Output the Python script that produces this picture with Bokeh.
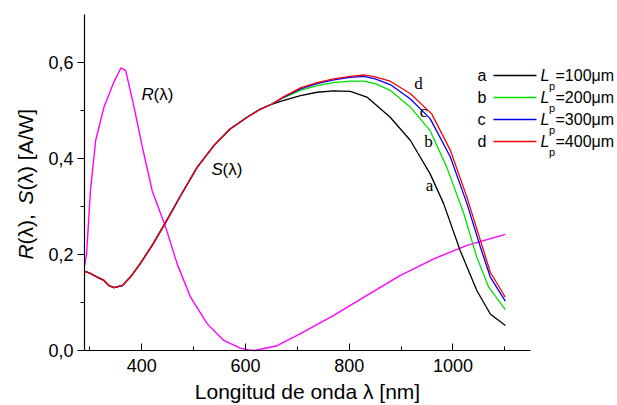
import math
from bokeh.plotting import figure
from bokeh.models import Label, Arrow, FixedTicker, CustomJSTickFormatter, Range1d, LinearAxis
from bokeh.embed import file_html
from bokeh.resources import INLINE

# ---------------- data ----------------
# common part of the spectral responsivity S(lambda) (all four curves coincide)
wl_common = [289.6, 300, 314, 327, 337, 346, 362, 378, 397, 420, 446, 475, 507, 539, 571, 603, 629, 650]
s_common = [0.165, 0.161, 0.153, 0.146, 0.135, 0.131, 0.135, 0.153, 0.181, 0.219, 0.267, 0.323,
            0.382, 0.427, 0.462, 0.486, 0.503, 0.513]

wl_a = [674, 706, 738, 770, 802, 834, 879, 918, 956, 982, 1014, 1046, 1072, 1101]
s_a = [0.521, 0.531, 0.538, 0.541, 0.540, 0.528, 0.486, 0.4375, 0.368, 0.306, 0.208, 0.125, 0.076, 0.052]

wl_b = [674, 706, 738, 770, 802, 828, 850, 879, 918, 956, 988, 1021, 1046, 1069, 1101]
s_b = [0.527, 0.542, 0.552, 0.558, 0.561, 0.561, 0.556, 0.542, 0.507, 0.458, 0.382, 0.285, 0.194, 0.132, 0.085]

wl_c = [674, 706, 738, 770, 802, 828, 850, 879, 918, 956, 995, 1027, 1053, 1072, 1101]
s_c = [0.528, 0.545, 0.556, 0.564, 0.569, 0.571, 0.566, 0.554, 0.524, 0.483, 0.403, 0.306, 0.215, 0.153, 0.103]

wl_d = [674, 706, 738, 770, 802, 828, 850, 879, 918, 959, 995, 1027, 1053, 1072, 1101]
s_d = [0.529, 0.547, 0.558, 0.566, 0.571, 0.574, 0.570, 0.561, 0.535, 0.493, 0.417, 0.319, 0.229, 0.163, 0.111]

# reflectance R(lambda)
wl_R = [289.6, 293.5, 301, 311, 327, 346, 360, 369, 385, 401, 420, 446, 468, 494, 526, 558, 590,
        606, 618, 661, 706, 770, 834, 898, 963, 1027, 1101]
R = [0.177, 0.201, 0.333, 0.4375, 0.507, 0.559, 0.589, 0.583, 0.507, 0.424, 0.333, 0.257, 0.181,
     0.111, 0.056, 0.021, 0.005, 0.001, 0.0, 0.010, 0.035, 0.073, 0.115, 0.156, 0.191, 0.219, 0.242]

series_keys = ["a", "b", "c", "d"]
series_lp = ["=100\u03bcm", "=200\u03bcm", "=300\u03bcm", "=400\u03bcm"]
series_wl = [wl_a, wl_b, wl_c, wl_d]
series_s = [s_a, s_b, s_c, s_d]
series_colors = ["#000000", "#00E000", "#0000FF", "#FF0000"]

x_ticks = [400, 600, 800, 1000]
x_minor = [300, 500, 700, 900, 1100]
y_ticks = [0.0, 0.2, 0.4, 0.6]
y_minor = [0.1, 0.3, 0.5]

# ---------------- layout ----------------
W, H = 617, 405
AL, AR, AT, AB = 84, 530, 14, 350      # axes box in pixels
XA0, XA1 = 289.5, 1149.5               # wavelength at the axis ends
YA0, YA1 = 0.0, 0.7
PXX = (AR - AL) / (XA1 - XA0)          # px per nm
PXY = (AB - AT) / (YA1 - YA0)          # px per unit
# the frame covers the whole canvas so texts outside the axes box are not clipped
X0, X1 = XA0 - AL / PXX, XA1 + (W - AR) / PXX
Y0, Y1 = YA0 - (H - AB) / PXY, YA1 + AT / PXY
SANS = "Liberation Sans"
SERIF = "Liberation Serif"


def dx(px):
    return XA0 + (px - AL) / PXX


def dy(py):
    return YA0 + (AB - py) / PXY


p = figure(width=W, height=H, x_range=Range1d(X0, X1), y_range=Range1d(Y0, Y1),
           output_backend="svg", toolbar_location=None, x_axis_location=None, y_axis_location=None,
           min_border_left=0, min_border_right=0, min_border_top=0, min_border_bottom=0)
p.grid.visible = False
p.outline_line_color = None
p.background_fill_color = "white"
p.border_fill_color = "white"

xa = LinearAxis(fixed_location=YA0, bounds=(XA0, XA1))
xa.ticker = FixedTicker(ticks=x_ticks, minor_ticks=x_minor)
xa.major_tick_in = 7
xa.major_tick_out = 0
xa.minor_tick_in = 4
xa.minor_tick_out = 0
xa.major_label_text_font = SANS
xa.major_label_text_font_size = "18px"
xa.major_label_text_color = "black"
xa.major_label_standoff = 8
xa.axis_label = "Longitud de onda \u03bb [nm]"
xa.axis_label_text_font = SANS
xa.axis_label_text_font_size = "21px"
xa.axis_label_text_font_style = "normal"
xa.axis_label_text_color = "black"
xa.axis_label_standoff = 5
p.add_layout(xa, "below")

ya = LinearAxis(fixed_location=XA0, bounds=(YA0, YA1))
ya.ticker = FixedTicker(ticks=y_ticks, minor_ticks=y_minor)
ya.major_tick_in = 0
ya.major_tick_out = 7
ya.minor_tick_in = 0
ya.minor_tick_out = 4
ya.major_label_text_font = SANS
ya.major_label_text_font_size = "18px"
ya.major_label_text_color = "black"
ya.major_label_standoff = 4
ya.formatter = CustomJSTickFormatter(code="return tick.toFixed(1).replace('.', ',');")
p.add_layout(ya, "left")

for ax in (xa, ya):
    ax.axis_line_color = "black"
    ax.major_tick_line_color = "black"
    ax.minor_tick_line_color = "black"
    ax.axis_line_width = 1.2

# ---------------- curves ----------------
p.line(wl_R, R, line_color="#FF00FF", line_width=1.4)
for wl, s, col in zip(series_wl, series_s, series_colors):
    p.line(wl_common + wl, s_common + s, line_color=col, line_width=1.3)

# ---------------- texts ----------------
def lab(px, py, text, font=SANS, size="17px", style="normal", align="left", baseline="middle", angle=0.0):
    p.add_layout(Label(x=dx(px), y=dy(py), text=text, text_font=font, text_font_size=size,
                       text_font_style=style, text_align=align, text_baseline=baseline,
                       angle=angle, text_color="black"))

# y axis title, composed of italic and upright parts (rotated)
lab(25, 259, "R", size="21px", style="italic", angle=math.pi / 2)
lab(25, 244, "(\u03bb),", size="21px", angle=math.pi / 2)
lab(25, 204, "S", size="21px", style="italic", angle=math.pi / 2)
lab(25, 190, "(\u03bb) [A/W]", size="21px", angle=math.pi / 2)

# curve names
lab(141, 94, "R", style="italic")
lab(153, 94, "(\u03bb)")
lab(211, 169, "S", style="italic")
lab(222, 169, "(\u03bb)")

# curve letters
for key, (px, py) in zip(series_keys, [(429, 185), (428, 141), (423, 111), (418, 83)]):
    lab(px, py, key, font=SERIF, size="17px", align="center")

# legend
for i, (key, lp, col) in enumerate(zip(series_keys, series_lp, series_colors)):
    py = 75 + 22 * i
    lab(477, py, key, size="16px")
    p.add_layout(Arrow(end=None, x_start=dx(493), y_start=dy(py), x_end=dx(536), y_end=dy(py),
                       line_color=col, line_width=1.3))
    lab(540, py, "L", size="16px", style="italic")
    lab(548.5, py + 10, "p", size="11px")
    lab(555, py, lp, size="16px")

open("out.html", "w").write(file_html(p, INLINE))
